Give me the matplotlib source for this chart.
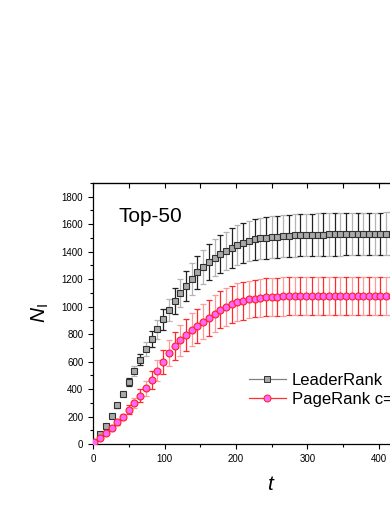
import matplotlib
matplotlib.use('Agg')
import matplotlib.pyplot as plt
from matplotlib.ticker import MultipleLocator

plt.rcParams['font.family'] = ['Liberation Sans', 'DejaVu Sans']
plt.rcParams['mathtext.fontset'] = 'custom'
plt.rcParams['mathtext.rm'] = 'Liberation Sans'
plt.rcParams['mathtext.it'] = 'Liberation Sans:italic'

# time steps (every 8 steps)
t = list(range(2, 499, 8))

leader = [10, 70, 133, 203, 283, 365, 450, 532, 614, 689, 764, 834, 907, 975,
          1040, 1098, 1151, 1202, 1250, 1289, 1325, 1356, 1382, 1405, 1427,
          1446, 1463, 1478, 1490, 1497, 1502, 1506, 1510, 1513, 1516, 1518,
          1520, 1522, 1523, 1524, 1525, 1526, 1527, 1527, 1528, 1528, 1529,
          1529, 1530, 1530, 1530, 1531, 1531, 1531, 1531, 1531, 1531, 1531,
          1531, 1531, 1531, 1531, 1531]
leader_err = [2, 8, 12, 15, 18, 22, 28, 35, 42, 50, 58, 66, 75, 83, 92, 100,
              108, 115, 121, 126, 131, 135, 138, 141, 144, 146, 148, 149, 150,
              151, 152, 153, 153, 153, 154, 154, 154, 154, 154, 154, 154, 154,
              155, 155, 155, 155, 155, 155, 155, 155, 155, 155, 155, 155, 155,
              155, 155, 155, 155, 155, 155, 155, 155]

pagerank = [15, 46, 80, 114, 157, 198, 251, 300, 351, 406, 467, 532, 597, 660,
            713, 755, 796, 832, 860, 890, 920, 950, 976, 998, 1016, 1031, 1043,
            1052, 1059, 1064, 1068, 1071, 1073, 1074, 1075, 1076, 1077, 1077,
            1077, 1078, 1078, 1078, 1078, 1078, 1078, 1078, 1078, 1078, 1078,
            1078, 1078, 1078, 1078, 1078, 1078, 1078, 1078, 1078, 1078, 1078,
            1078, 1078, 1078]
pagerank_err = [3, 6, 9, 12, 16, 22, 30, 38, 47, 56, 66, 76, 86, 95, 104, 111,
                117, 122, 126, 129, 131, 133, 135, 136, 137, 138, 138, 138, 138,
                138, 138, 139, 139, 139, 139, 139, 139, 139, 139, 139, 139, 139,
                139, 139, 139, 139, 139, 139, 139, 139, 139, 139, 139, 139, 139,
                139, 139, 139, 139, 139, 139, 139, 139]

fig = plt.figure(figsize=(3.9, 5.05), dpi=100)
ax = fig.add_axes([93/390, 61/505, 357.5/390, 261/505])

# error bars alternate dark / light like the original
for sl, col in [(slice(0, None, 2), '#222222'), (slice(1, None, 2), '#b4b4b4')]:
    ax.errorbar(t[sl], leader[sl], yerr=leader_err[sl], fmt='none',
                ecolor=col, elinewidth=0.9, capsize=2.3, capthick=0.9, zorder=2)
for sl, col in [(slice(0, None, 2), '#ff2a2a'), (slice(1, None, 2), '#ff9a9a')]:
    ax.errorbar(t[sl], pagerank[sl], yerr=pagerank_err[sl], fmt='none',
                ecolor=col, elinewidth=0.9, capsize=2.3, capthick=0.9, zorder=2)

ax.plot(t, leader, ls='none', marker='s', ms=4.6, mfc='#a9a9a9', mec='#303030',
        mew=0.8, zorder=3)
ax.plot(t, pagerank, ls='none', marker='o', ms=5, mfc='#ff66ff', mec='#ff2020',
        mew=0.8, zorder=4)

# legend handles
h1, = ax.plot([], [], color='#808080', lw=0.9, marker='s', ms=4, mfc='#a9a9a9',
              mec='#303030', mew=0.7)
h2, = ax.plot([], [], color='#ff3030', lw=0.9, marker='o', ms=5, mfc='#ff66ff',
              mec='#ff2020', mew=0.7)
ax.legend([h1, h2], ['LeaderRank', 'PageRank c=0.15'], loc='upper left',
          bbox_to_anchor=(249/390, 1 - 373/505), bbox_transform=fig.transFigure,
          frameon=False, fontsize=12, handlelength=2.2, handletextpad=0.35,
          labelspacing=0.25, borderpad=0, borderaxespad=0)

ax.set_xlim(0, 500)
ax.set_ylim(0, 1900)
ax.xaxis.set_major_locator(MultipleLocator(100))
ax.xaxis.set_minor_locator(MultipleLocator(50))
ax.yaxis.set_major_locator(MultipleLocator(200))
ax.yaxis.set_minor_locator(MultipleLocator(100))
ax.tick_params(which='both', direction='out', labelsize=7, width=0.8,
               right=False, top=False)
ax.tick_params(which='major', length=3.5)
ax.tick_params(which='minor', length=2)
for s in ax.spines.values():
    s.set_linewidth(0.9)

top = ax.secondary_xaxis('top')
top.xaxis.set_major_locator(MultipleLocator(50))
top.tick_params(direction='in', length=3.5, width=0.8, labeltop=False)

ax.text(0.07, 0.87, 'Top-50', transform=ax.transAxes, fontsize=15,
        ha='left', va='center')

ax.set_xlabel('$t$', fontsize=15, labelpad=8)
ax.set_ylabel('$N_{\\mathrm{I}}$', fontsize=15, labelpad=8)

fig.savefig('out.png', dpi=100)
